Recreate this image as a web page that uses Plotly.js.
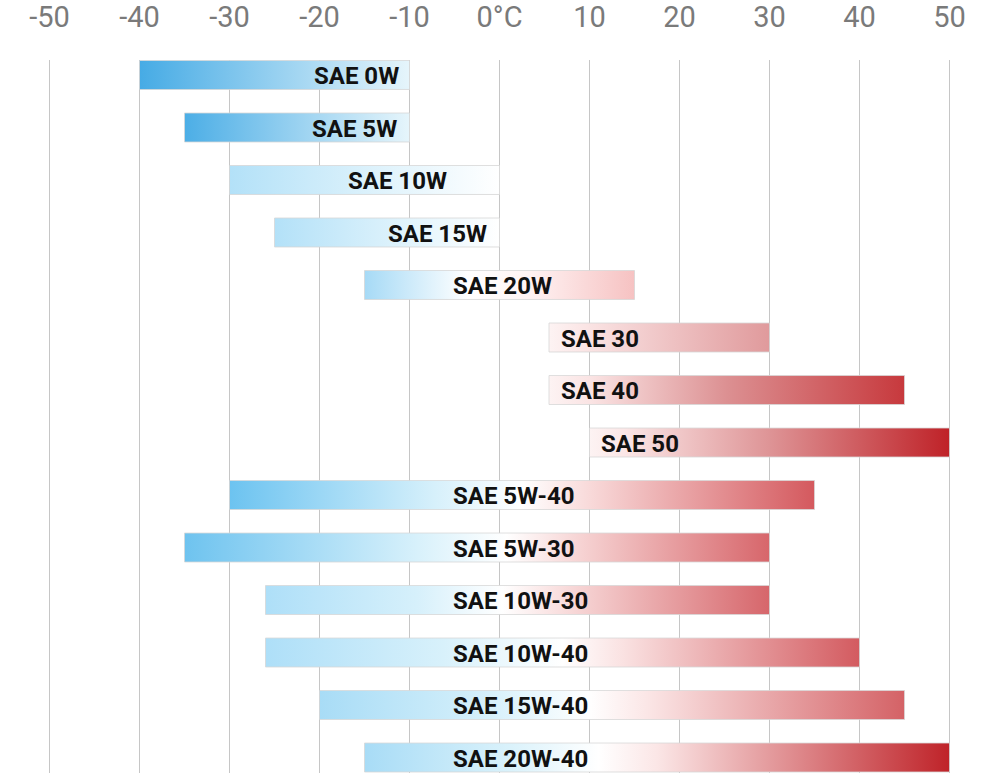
<!DOCTYPE html>
<html>
<head>
<meta charset="utf-8">
<script src="https://cdn.plot.ly/plotly-3.0.1.min.js"></script>
<style>
  html, body { margin: 0; padding: 0; background: #ffffff; }
  #chart { width: 1000px; height: 773px; }
</style>
</head>
<body>
<div id="chart"></div>
<script>
// ---- data ----
const grades   = ["SAE 0W", "SAE 5W", "SAE 10W", "SAE 15W", "SAE 20W", "SAE 30", "SAE 40", "SAE 50",
                  "SAE 5W-40", "SAE 5W-30", "SAE 10W-30", "SAE 10W-40", "SAE 15W-40", "SAE 20W-40"];
const minTemp  = [-40, -35, -30, -25, -15, 5.5, 5.5, 10, -30, -35, -26, -26, -20, -15];
const maxTemp  = [-10, -10, 0, 0, 15, 30, 45, 50, 35, 30, 30, 40, 45, 50];
const tickVals = [-50, -40, -30, -20, -10, 0, 10, 20, 30, 40, 50];
const tickText = ["-50", "-40", "-30", "-20", "-10", "0°C", "10", "20", "30", "40", "50"];

// ---- styles (per bar gradient and label placement) ----
const barGradients = [
  [[0, "#46abe5"], [1, "#e6f5fb"]],
  [[0, "#4caee6"], [1, "#e6f5fb"]],
  [[0, "#b3e1f8"], [0.6, "#e2f4fc"], [1, "#ffffff"]],
  [[0, "#b3e1f8"], [0.6, "#e2f4fc"], [1, "#ffffff"]],
  [[0, "#a6daf6"], [0.38, "#ffffff"], [0.6, "#fff4f4"], [1, "#f6c2c2"]],
  [[0, "#fdf3f3"], [0.15, "#fbe6e6"], [1, "#e09a9c"]],
  [[0, "#fdf3f3"], [0.12, "#fae3e3"], [0.5, "#dc9092"], [1, "#c7393d"]],
  [[0, "#fdf3f3"], [0.1, "#fbe6e6"], [0.5, "#de9496"], [1, "#bf2228"]],
  [[0, "#6cc3f0"], [0.35, "#d6f0fb"], [0.5, "#ffffff"], [0.62, "#f8d8d8"], [1, "#d4595e"]],
  [[0, "#6ec3ef"], [0.4, "#d8f1fb"], [0.55, "#ffffff"], [0.68, "#f6d2d2"], [1, "#d7666b"]],
  [[0, "#aedff8"], [0.3, "#d6f0fb"], [0.47, "#ffffff"], [0.6, "#f8dada"], [1, "#d6666b"]],
  [[0, "#aedff8"], [0.3, "#d8f1fb"], [0.5, "#ffffff"], [0.6, "#fae2e2"], [1, "#d35b60"]],
  [[0, "#a8dcf6"], [0.3, "#d8f1fb"], [0.46, "#ffffff"], [0.56, "#fbe6e6"], [1, "#d46266"]],
  [[0, "#a8dcf6"], [0.25, "#daf2fb"], [0.4, "#ffffff"], [0.5, "#fbe6e6"], [1, "#bf2329"]]
];
const labelX      = [-10.9, -11.2, -5.6, -1.2, 0.3, 6.6, 6.6, 11, -5.4, -5.4, -5.4, -5.4, -5.4, -5.4];
const labelAnchor = ["right", "right", "right", "right", "center", "left", "left", "left",
                     "left", "left", "left", "left", "left", "left"];

const HALF = 0.276; // half bar thickness in row units
const tickFont = "Roboto, 'DejaVu Sans', sans-serif";

const traces = grades.map((g, i) => ({
  type: "scatter",
  mode: "lines",
  x: [minTemp[i], maxTemp[i], maxTemp[i], minTemp[i], minTemp[i]],
  y: [i - HALF, i - HALF, i + HALF, i + HALF, i - HALF],
  fill: "toself",
  fillgradient: { type: "horizontal", colorscale: barGradients[i] },
  line: { color: "rgba(215,215,215,0.8)", width: 1 },
  hoverinfo: "skip",
  showlegend: false,
  name: g
}));

const annotations = grades.map((g, i) => ({
  x: labelX[i],
  y: i,
  xref: "x",
  yref: "y",
  text: g,
  showarrow: false,
  xanchor: labelAnchor[i],
  yanchor: "middle",
  yshift: -1,
  font: { family: tickFont, size: 24, color: "#111111", weight: "bold" }
}));

const layout = {
  width: 1000,
  height: 773,
  margin: { l: 45, r: 46, t: 60, b: 0, pad: 0 },
  paper_bgcolor: "#ffffff",
  plot_bgcolor: "#ffffff",
  showlegend: false,
  xaxis: {
    side: "top",
    range: [-50.5, 50.5],
    tickmode: "array",
    tickvals: tickVals,
    ticktext: tickText,
    ticks: "",
    ticklabelstandoff: 26,
    showgrid: true,
    gridcolor: "#c6c6c6",
    gridwidth: 1,
    zeroline: false,
    showline: false,
    fixedrange: true,
    tickfont: { family: tickFont, size: 29, color: "#7a7a7a" }
  },
  yaxis: {
    range: [13.295, -0.2857],
    showgrid: false,
    zeroline: false,
    showline: false,
    showticklabels: false,
    ticks: "",
    fixedrange: true
  },
  annotations: annotations
};

Plotly.newPlot("chart", traces, layout, { displayModeBar: false, staticPlot: true });
</script>
</body>
</html>
